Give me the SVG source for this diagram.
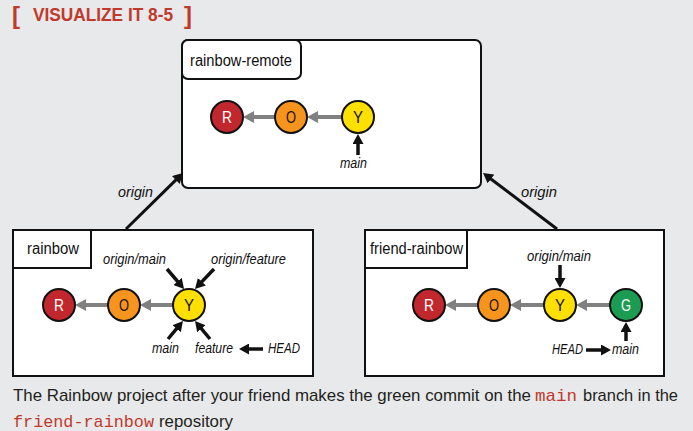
<svg xmlns="http://www.w3.org/2000/svg" width="693" height="431" viewBox="0 0 693 431">
<style>
.repo{fill:#fff;stroke:#111;stroke-width:2}
.lbl{font-family:"Liberation Sans",Arial,sans-serif;font-size:16px;fill:#111}
.ref{font-family:"Liberation Sans",Arial,sans-serif;font-size:14px;font-style:italic;fill:#111}
.cm{stroke:#111;stroke-width:2}
.ct{font-family:"Liberation Sans",Arial,sans-serif;font-size:16px;text-anchor:middle}
.g{stroke:#808080;stroke-width:4;fill:none;marker-end:url(#ga)}
.b{stroke:#111;stroke-width:3.5;fill:none;marker-end:url(#ba)}
.o{stroke:#111;stroke-width:3;fill:none;marker-end:url(#ba)}
.cap{font-family:"Liberation Sans",Arial,sans-serif;font-size:17px;fill:#231f20}
.code{font-family:"Liberation Mono","Courier New",monospace;font-size:17px;fill:#c0392b}
</style>
<defs>
<marker id="ga" markerUnits="userSpaceOnUse" viewBox="0 0 11 12" markerWidth="11" markerHeight="12" refX="3" refY="6" orient="auto"><path d="M0,0 L11,6 L0,12 z" fill="#808080"/></marker>
<marker id="ba" markerUnits="userSpaceOnUse" viewBox="0 0 10 11" markerWidth="10" markerHeight="11" refX="3" refY="5.5" orient="auto"><path d="M0,0 L10,5.5 L0,11 z" fill="#111"/></marker>
</defs>
<rect width="693" height="431" fill="#e8e9eb"/>
<g id="title" font-family="Liberation Sans,Arial,sans-serif" font-weight="bold" fill="#c0392b">
<text x="12" y="24" font-size="24">[</text>
<text x="33" y="21" font-size="18" textLength="140" lengthAdjust="spacingAndGlyphs">VISUALIZE IT 8-5</text>
<text x="184" y="24" font-size="24">]</text>
</g>
<g id="rainbow-remote">
<rect class="repo" x="182" y="40" width="299" height="148" rx="6"/>
<rect class="repo" x="182" y="40" width="119" height="39" rx="6"/>
<text class="lbl" x="190" y="66" textLength="102" lengthAdjust="spacingAndGlyphs">rainbow-remote</text>
</g>
<g id="rainbow">
<rect class="repo" x="13" y="230" width="300" height="146"/>
<rect class="repo" x="13" y="230" width="78" height="38"/>
<text class="lbl" x="27" y="254" textLength="52" lengthAdjust="spacingAndGlyphs">rainbow</text>
</g>
<g id="friend-rainbow">
<rect class="repo" x="365" y="230" width="299" height="146"/>
<rect class="repo" x="365" y="230" width="102" height="38"/>
<text class="lbl" x="370" y="254" textLength="93" lengthAdjust="spacingAndGlyphs">friend-rainbow</text>
</g>
<g id="connectors">
<path class="g" d="M275,117 L251,117"/>
<path class="g" d="M342,117 L315,117"/>
<path class="b" d="M358,155 L358,141"/>
<path class="g" d="M108,305 L83,305"/>
<path class="g" d="M173,305 L148,305"/>
<path class="b" d="M167,269 L179.5,283.7"/>
<path class="b" d="M214,269 L199.8,283.9"/>
<path class="b" d="M168,339 L178.5,326.4"/>
<path class="b" d="M210,339 L199.5,326.4"/>
<path class="b" d="M263,349 L246,349"/>
<path class="g" d="M478,305 L453,305"/>
<path class="g" d="M544,305 L518,305"/>
<path class="g" d="M610,305 L584,305"/>
<path class="b" d="M560,265 L560,281"/>
<path class="b" d="M626,341 L626,329"/>
<path class="b" d="M586,350 L604,350"/>
<path class="o" d="M126,229 L178,177.9"/>
<path class="o" d="M557,229 L488.6,177.2"/>
</g>
<g id="remote-R"><circle class="cm" cx="227" cy="117" r="16" fill="#c1272d"/><text class="ct" x="227" y="123" fill="#fff" textLength="10" lengthAdjust="spacingAndGlyphs">R</text></g>
<g id="remote-O"><circle class="cm" cx="291" cy="117" r="16" fill="#f7941d"/><text class="ct" x="291" y="123" fill="#111" textLength="10" lengthAdjust="spacingAndGlyphs">O</text></g>
<g id="remote-Y"><circle class="cm" cx="358" cy="117" r="16" fill="#ffe000"/><text class="ct" x="358" y="123" fill="#111" textLength="10" lengthAdjust="spacingAndGlyphs">Y</text></g>
<g id="rainbow-R"><circle class="cm" cx="59" cy="305" r="16" fill="#c1272d"/><text class="ct" x="59" y="311" fill="#fff" textLength="10" lengthAdjust="spacingAndGlyphs">R</text></g>
<g id="rainbow-O"><circle class="cm" cx="124" cy="305" r="16" fill="#f7941d"/><text class="ct" x="124" y="311" fill="#111" textLength="10" lengthAdjust="spacingAndGlyphs">O</text></g>
<g id="rainbow-Y"><circle class="cm" cx="189" cy="305" r="16" fill="#ffe000"/><text class="ct" x="189" y="311" fill="#111" textLength="10" lengthAdjust="spacingAndGlyphs">Y</text></g>
<g id="friend-R"><circle class="cm" cx="429" cy="305" r="16" fill="#c1272d"/><text class="ct" x="429" y="311" fill="#fff" textLength="10" lengthAdjust="spacingAndGlyphs">R</text></g>
<g id="friend-O"><circle class="cm" cx="494" cy="305" r="16" fill="#f7941d"/><text class="ct" x="494" y="311" fill="#111" textLength="10" lengthAdjust="spacingAndGlyphs">O</text></g>
<g id="friend-Y"><circle class="cm" cx="560" cy="305" r="16" fill="#ffe000"/><text class="ct" x="560" y="311" fill="#111" textLength="10" lengthAdjust="spacingAndGlyphs">Y</text></g>
<g id="friend-G"><circle class="cm" cx="626" cy="305" r="16" fill="#1b9c52"/><text class="ct" x="626" y="311" fill="#fff" textLength="10" lengthAdjust="spacingAndGlyphs">G</text></g>
<g id="labels">
<text class="ref" x="340" y="168" textLength="27" lengthAdjust="spacingAndGlyphs">main</text>
<text class="ref" x="118" y="197" textLength="35" lengthAdjust="spacingAndGlyphs">origin</text>
<text class="ref" x="521" y="197" textLength="36" lengthAdjust="spacingAndGlyphs">origin</text>
<text class="ref" x="103" y="264" textLength="63" lengthAdjust="spacingAndGlyphs">origin/main</text>
<text class="ref" x="211" y="264" textLength="75" lengthAdjust="spacingAndGlyphs">origin/feature</text>
<text class="ref" x="152" y="353" textLength="27" lengthAdjust="spacingAndGlyphs">main</text>
<text class="ref" x="195" y="353" textLength="38" lengthAdjust="spacingAndGlyphs">feature</text>
<text class="ref" x="268" y="353" textLength="32" lengthAdjust="spacingAndGlyphs">HEAD</text>
<text class="ref" x="527" y="261" textLength="64" lengthAdjust="spacingAndGlyphs">origin/main</text>
<text class="ref" x="552" y="354" textLength="31" lengthAdjust="spacingAndGlyphs">HEAD</text>
<text class="ref" x="612" y="354" textLength="27" lengthAdjust="spacingAndGlyphs">main</text>
</g>
<g id="caption">
<text class="cap" y="401"><tspan x="13" textLength="518" lengthAdjust="spacingAndGlyphs">The Rainbow project after your friend makes the green commit on the</tspan><tspan class="code" x="535" textLength="42" lengthAdjust="spacingAndGlyphs">main</tspan><tspan x="583" textLength="95" lengthAdjust="spacingAndGlyphs">branch in the</tspan></text>
<text class="cap" y="427"><tspan class="code" x="13" textLength="141" lengthAdjust="spacingAndGlyphs">friend-rainbow</tspan><tspan x="159" textLength="74" lengthAdjust="spacingAndGlyphs">repository</tspan></text>
</g>
</svg>
